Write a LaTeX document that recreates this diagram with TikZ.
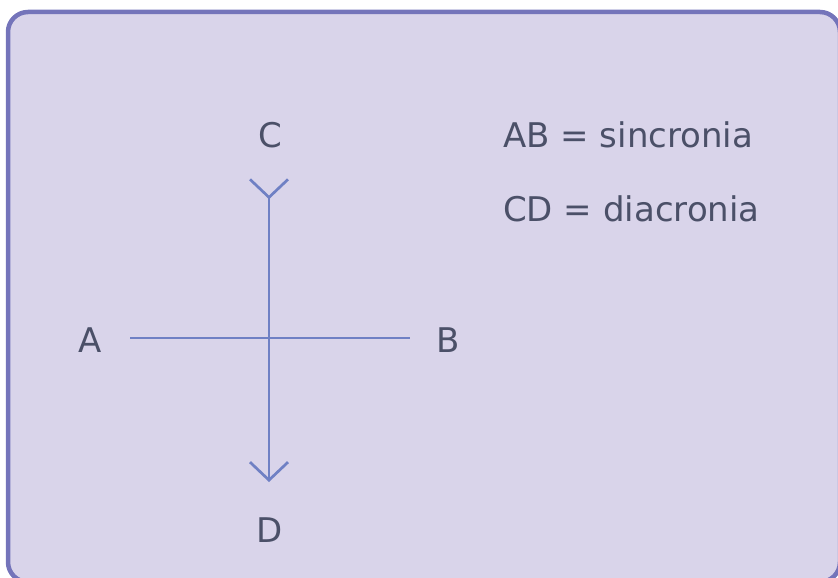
\documentclass[tikz,border=0pt]{standalone}
\usepackage{fontspec}
\setmainfont{DejaVu Sans}
\usetikzlibrary{arrows.meta}
\definecolor{bgfill}{HTML}{D9D4EA}
\definecolor{bordercol}{HTML}{7474BA}
\definecolor{linecol}{HTML}{6F80C4}
\definecolor{txt}{HTML}{4B5068}
\begin{document}
\begin{tikzpicture}[x=1pt,y=-1pt,
  lbl/.style={font=\fontsize{34}{40}\selectfont, text=txt, inner sep=0pt, anchor=base},
  axis/.style={draw=linecol, line width=2.7pt}]
\useasboundingbox (0,0) rectangle (838,578);
\begin{scope}
  \clip (0,0) rectangle (838,578);
  \draw[fill=bgfill, draw=bordercol, line width=4.5pt, rounded corners=20pt] (8,12) rectangle (840,582);
\end{scope}
\node[lbl] (C) at (270,147) {C};
\node[lbl] (D) at (270,542) {D};
\node[lbl] (A) at (90,352) {A};
\node[lbl] (B) at (448,352) {B};
\node[lbl, anchor=base west] (sync) at (503,147) {AB = sincronia};
\node[lbl, anchor=base west] (diac) at (503,221) {CD = diacronia};
\coordinate (hl) at (130,338);
\coordinate (hr) at (410,338);
\coordinate (ctop) at (269,178);
\coordinate (cbot) at (269,482);
\draw[axis] (hl) -- (hr);
\draw[axis, {Straight Barb[reversed,length=18pt,width=38pt]}-{Straight Barb[length=18pt,width=38pt]}] (ctop) -- (cbot);
\end{tikzpicture}
\end{document}
